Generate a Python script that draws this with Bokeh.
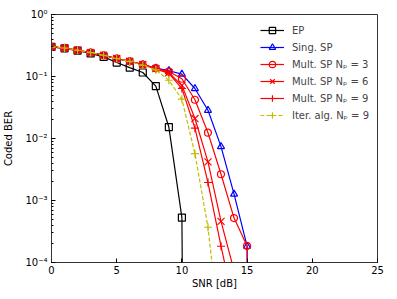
from bokeh.plotting import figure
from bokeh.models import Range1d, CustomJSTickFormatter, FixedTicker, Legend, LegendItem
from bokeh.embed import file_html
from bokeh.resources import INLINE

# ---- data (BER vs SNR); 1e-30 stands for zero measured errors ----
snr_ep = [0, 1, 2, 3, 4, 5, 6, 7, 8, 9, 10, 11]
ber_ep = [0.30, 0.285, 0.262, 0.236, 0.207, 0.168, 0.139, 0.116, 0.070, 0.0153, 5.3e-4, 1e-30]

snr_sing = [0, 1, 2, 3, 4, 5, 6, 7, 8, 9, 10, 11, 12, 13, 14, 15, 16]
ber_sing = [0.30, 0.287, 0.264, 0.242, 0.219, 0.194, 0.175, 0.155, 0.137, 0.124, 0.109,
            0.064, 0.0285, 0.0074, 1.27e-3, 1.83e-4, 1e-30]

snr_np3 = [0, 1, 2, 3, 4, 5, 6, 7, 8, 9, 10, 11, 12, 13, 14, 15, 16]
ber_np3 = [0.30, 0.288, 0.265, 0.243, 0.220, 0.195, 0.176, 0.156, 0.136, 0.120, 0.092,
           0.0422, 0.0124, 2.65e-3, 5.2e-4, 1.85e-4, 1e-30]

snr_np6 = [0, 1, 2, 3, 4, 5, 6, 7, 8, 9, 10, 11, 12, 13, 14]
ber_np6 = [0.30, 0.288, 0.265, 0.243, 0.220, 0.195, 0.176, 0.156, 0.134, 0.115, 0.072,
           0.021, 4.2e-3, 4.6e-4, 7.4e-5]

snr_np9 = [0, 1, 2, 3, 4, 5, 6, 7, 8, 9, 10, 11, 12, 13, 14]
ber_np9 = [0.30, 0.288, 0.265, 0.243, 0.220, 0.195, 0.176, 0.156, 0.133, 0.112, 0.064,
           0.0147, 1.95e-3, 1.83e-4, 2e-5]

snr_iter = [0, 1, 2, 3, 4, 5, 6, 7, 8, 9, 10, 11, 12, 13]
ber_iter = [0.30, 0.288, 0.265, 0.243, 0.220, 0.195, 0.175, 0.152, 0.128, 0.087, 0.043,
            5.7e-3, 3.7e-4, 5e-6]

labels = ["EP", "Sing. SP", "Mult. SP N\u209a = 3", "Mult. SP N\u209a = 6",
          "Mult. SP N\u209a = 9", "Iter. alg. N\u209a = 9"]
x_ticks = [0, 5, 10, 15, 20, 25]
y_ticks = [1e-4, 1e-3, 1e-2, 1e-1, 1e0]

FONT = "DejaVu Sans"

p = figure(width=389, height=291, y_axis_type="log",
           x_range=Range1d(0, 25), y_range=Range1d(1e-4, 1),
           output_backend="svg", toolbar_location=None,
           min_border_left=51, min_border_top=14, min_border_right=12, min_border_bottom=28)
p.grid.visible = False
p.outline_line_color = "#333333"
p.outline_line_width = 1

for ax in (p.xaxis[0], p.yaxis[0]):
    ax.major_label_text_font = FONT
    ax.major_label_text_font_size = "10px"
    ax.major_label_text_color = "#000000"
    ax.axis_label_text_font = FONT
    ax.axis_label_text_font_size = "10px"
    ax.axis_label_text_font_style = "normal"
    ax.axis_label_text_color = "#000000"
    ax.axis_line_color = "#333333"
    ax.major_tick_in = 4
    ax.major_tick_out = 0
    ax.minor_tick_in = 2
    ax.minor_tick_out = 0
    ax.major_tick_line_color = "#000000"
    ax.minor_tick_line_color = "#000000"

p.xaxis.axis_label = "SNR [dB]"
p.yaxis.axis_label = "Coded BER"
p.xaxis.ticker = FixedTicker(ticks=x_ticks, minor_ticks=[])
p.yaxis.ticker.num_minor_ticks = 10
p.xaxis.major_label_standoff = 3
p.xaxis.axis_label_standoff = 1
p.yaxis.major_label_standoff = 4
p.yaxis.axis_label_standoff = 8
p.yaxis.formatter = CustomJSTickFormatter(code="""
const sup = {"-":"\u207b","0":"\u2070","1":"\u00b9","2":"\u00b2","3":"\u00b3","4":"\u2074",
             "5":"\u2075","6":"\u2076","7":"\u2077","8":"\u2078","9":"\u2079"};
const e = Math.round(Math.log10(tick));
return "10" + String(e).split("").map(c => sup[c]).join("");
""")

items = []
series = [
    (snr_ep, ber_ep, "black", "square", "solid"),
    (snr_sing, ber_sing, "#0000ff", "triangle", "solid"),
    (snr_np3, ber_np3, "#ff0000", "circle", "solid"),
    (snr_np6, ber_np6, "#ff0000", "x", "solid"),
    (snr_np9, ber_np9, "#ff0000", "cross", "solid"),
    (snr_iter, ber_iter, "#bfbf00", "cross", "dashed"),
]
for (xs, ys, col, mk, dash), lab in zip(series, labels):
    ln = p.line(xs, ys, line_color=col, line_width=1.2, line_dash=("4 2" if dash == "dashed" else "solid"))
    sz = {"x": 10, "cross": 8}.get(mk, 7)
    sc = p.scatter(xs, ys, marker=mk, size=sz, line_color=col, fill_color=None, line_width=1.2)
    items.append(LegendItem(label=lab, renderers=[ln, sc]))

legend = Legend(items=items, location="top_right")
legend.border_line_color = None
legend.background_fill_alpha = 0
legend.label_text_font = FONT
legend.label_text_font_size = "10px"
legend.glyph_width = 24
legend.glyph_height = 16
legend.label_height = 16
legend.spacing = 1
legend.padding = 4
legend.margin = 8
legend.label_standoff = 8
p.add_layout(legend)

open("out.html", "w").write(file_html(p, INLINE))
